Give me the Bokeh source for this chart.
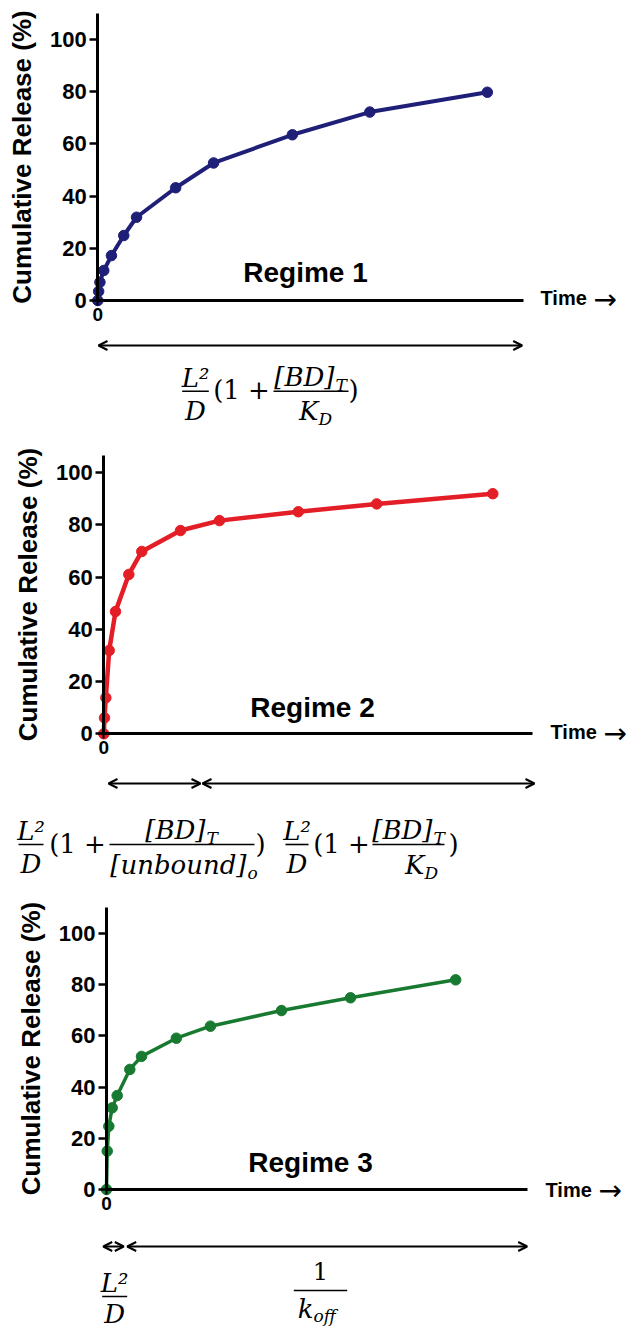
from bokeh.plotting import figure
from bokeh.layouts import column
from bokeh.models import Range1d, FixedTicker, Label, Arrow, OpenHead
from bokeh.embed import file_html
from bokeh.resources import INLINE

# ---------------- data (time in arbitrary units, release in %) ----------------
R1_TIME = [0, 0.2, 0.5, 1.4, 3.2, 6.1, 9.1, 18.3, 27.2, 45.7, 63.9, 91.5]
R1_RELEASE = [0, 3.5, 7.0, 11.5, 17.2, 24.9, 31.9, 43.2, 52.7, 63.5, 72.2, 79.8]

R2_TIME = [0, 0.16, 0.47, 1.26, 2.73, 5.84, 8.87, 17.9, 27.0, 45.4, 63.7, 90.8]
R2_RELEASE = [0, 6.1, 13.8, 31.9, 46.8, 61.0, 69.8, 77.8, 81.6, 85.0, 88.0, 91.9]

R3_TIME = [0, 0.17, 0.55, 1.35, 2.54, 5.54, 8.32, 16.6, 24.7, 41.6, 58.0, 83.0]
R3_RELEASE = [0, 15.0, 24.7, 31.9, 36.7, 46.9, 52.0, 59.1, 63.8, 69.9, 74.9, 81.9]

Y_TICKS = [0, 20, 40, 60, 80, 100]
X_TICKS = [0]
REGIME_NAMES = ["Regime 1", "Regime 2", "Regime 3"]
Y_LABEL = "Cumulative Release (%)"
X_LABEL = "Time"
X_ARROW = "\u2192"

# ---------------- layout / style ----------------
SANS = "Liberation Sans"
SERIF = "DejaVu Serif"
W = 627
LEFT = 0


class Geo:
    """Maps page pixel positions (used only for annotations) to data units."""
    def __init__(self, top, bottom, axis_x, x_end, y0, ppu):
        self.top, self.bottom = top, bottom
        self.axis_x, self.y0, self.ppu = axis_x, y0, ppu
        self.sx = (x_end - axis_x) / 100.0

    def X(self, px):
        return (px - self.axis_x) / self.sx

    def Y(self, py):
        return (self.y0 - py) / self.ppu


def base_fig(g, ymax):
    p = figure(width=W, height=int(round(g.bottom - g.top)),
               x_range=Range1d(g.X(LEFT), g.X(LEFT + W)),
               y_range=Range1d(g.Y(g.bottom), g.Y(g.top)),
               output_backend="svg", toolbar_location=None, tools="",
               min_border=0, outline_line_color=None,
               background_fill_color="white", border_fill_color="white")
    p.grid.visible = False
    ya = p.yaxis[0]
    xa = p.xaxis[0]
    ya.fixed_location = 0
    ya.bounds = (0, ymax)
    ya.ticker = FixedTicker(ticks=Y_TICKS)
    ya.axis_line_width = 3
    ya.axis_line_color = "black"
    ya.major_tick_line_width = 2.5
    ya.major_tick_line_color = "black"
    ya.major_tick_out = 8
    ya.major_tick_in = 0
    ya.minor_tick_line_color = None
    ya.major_label_text_font = SANS
    ya.major_label_text_font_style = "bold"
    ya.major_label_text_font_size = "22px"
    ya.major_label_text_color = "black"
    ya.major_label_standoff = 3
    ya.axis_label = Y_LABEL
    ya.axis_label_text_font = SANS
    ya.axis_label_text_font_style = "bold"
    ya.axis_label_text_font_size = "26px"
    ya.axis_label_text_color = "black"
    ya.axis_label_standoff = 10

    xa.fixed_location = 0
    xa.bounds = (0, 100)
    xa.ticker = FixedTicker(ticks=X_TICKS)
    xa.axis_line_width = 3
    xa.axis_line_color = "black"
    xa.major_tick_line_width = 2
    xa.major_tick_out = 5
    xa.major_tick_in = 0
    xa.minor_tick_line_color = None
    xa.major_label_text_font = SANS
    xa.major_label_text_font_style = "bold"
    xa.major_label_text_font_size = "19px"
    xa.major_label_text_color = "black"
    xa.major_label_standoff = 2
    return p


def txt(p, g, px, base, text, size, font=SERIF, style="italic", align="left"):
    """Place a text whose alphabetic baseline is at page pixel `base`."""
    cy = base - 0.36 * size
    p.add_layout(Label(x=g.X(px), y=g.Y(cy), text=text, text_font=font,
                       text_font_style=style, text_font_size=f"{size}px",
                       text_align=align, text_baseline="middle",
                       text_color="black"))


def hline(p, g, x0, x1, py, w=1.6):
    p.add_layout(Arrow(x_start=g.X(x0), y_start=g.Y(py), x_end=g.X(x1),
                       y_end=g.Y(py), start=None, end=None,
                       line_width=w, line_color="black"))


def darrow(p, g, x0, x1, py):
    p.add_layout(Arrow(x_start=g.X(x0), y_start=g.Y(py), x_end=g.X(x1),
                       y_end=g.Y(py),
                       start=OpenHead(size=9, line_width=2, line_color="black"),
                       end=OpenHead(size=9, line_width=2, line_color="black"),
                       line_width=2, line_color="black"))


def series(p, t, v, color, lw):
    p.line(t, v, line_width=lw, line_color=color)
    p.scatter(t, v, size=10.5, fill_color=color, line_color=color)


def titles(p, g, name, cx, base, tx, tcy):
    txt(p, g, cx, base, name, 28, font=SANS, style="bold", align="center")
    p.add_layout(Label(x=g.X(tx), y=g.Y(tcy), text=X_LABEL, text_font=SANS,
                       text_font_style="bold", text_font_size="20px",
                       text_align="left", text_baseline="middle",
                       text_color="black"))
    p.add_layout(Label(x=g.X(tx + 53), y=g.Y(tcy + 1), text=X_ARROW,
                       text_font="DejaVu Sans", text_font_style="normal",
                       text_font_size="28px", text_align="left",
                       text_baseline="middle", text_color="black"))


def ld_fraction(p, g, x0, x1, bar_y, den_gap=29):
    cx = (x0 + x1) / 2
    hline(p, g, x0, x1, bar_y)
    txt(p, g, cx, bar_y - 4, "L\u00b2", 26, align="center")
    txt(p, g, cx, bar_y + den_gap, "D", 26, align="center")


# ---------------- Regime 1 ----------------
G1 = Geo(top=0, bottom=445, axis_x=97.3, x_end=523, y0=300, ppu=2.61)
p1 = base_fig(G1, 110)
series(p1, R1_TIME, R1_RELEASE, "#1f1f78", 4)
titles(p1, G1, REGIME_NAMES[0], 305, 282, 540, 297.5)
darrow(p1, G1, 98, 521.7, 345)
ld_fraction(p1, G1, 181.7, 208.3, 390.7)
txt(p1, G1, 241, 399, "(1 +", 26, style="normal", align="center")
hline(p1, G1, 273, 348, 390.7)
txt(p1, G1, 334, 386, "[BD]", 26, align="right")
txt(p1, G1, 335, 391, "T", 17)
txt(p1, G1, 318, 420, "K", 26, align="right")
txt(p1, G1, 318, 425, "D", 17)
txt(p1, G1, 353, 399, ")", 26, style="normal", align="center")

# ---------------- Regime 2 ----------------
G2 = Geo(top=445, bottom=895, axis_x=103.3, x_end=531.7, y0=733.3, ppu=2.6125)
p2 = base_fig(G2, 106.5)
series(p2, R2_TIME, R2_RELEASE, "#e41e26", 4.5)
titles(p2, G2, REGIME_NAMES[1], 312, 716.7, 550, 731.7)
darrow(p2, G2, 108, 200, 783)
darrow(p2, G2, 202, 534, 783)
ld_fraction(p2, G2, 18, 43, 844)
txt(p2, G2, 77, 853, "(1 +", 26, style="normal", align="center")
hline(p2, G2, 109, 254, 844)
txt(p2, G2, 205, 839, "[BD]", 26, align="right")
txt(p2, G2, 206, 844, "T", 17)
txt(p2, G2, 246, 874, "[unbound]", 26, align="right")
txt(p2, G2, 247, 879, "o", 17)
txt(p2, G2, 260, 853, ")", 26, style="normal", align="center")
ld_fraction(p2, G2, 285, 308, 844)
txt(p2, G2, 341, 853, "(1 +", 26, style="normal", align="center")
hline(p2, G2, 372, 444, 844)
txt(p2, G2, 432, 839, "[BD]", 26, align="right")
txt(p2, G2, 433, 844, "T", 17)
txt(p2, G2, 424, 874, "K", 26, align="right")
txt(p2, G2, 424, 879, "D", 17)
txt(p2, G2, 453, 853, ")", 26, style="normal", align="center")

# ---------------- Regime 3 ----------------
G3 = Geo(top=895, bottom=1330, axis_x=106, x_end=526.7, y0=1189, ppu=2.56)
p3 = base_fig(G3, 110)
series(p3, R3_TIME, R3_RELEASE, "#187a30", 3.5)
titles(p3, G3, REGIME_NAMES[2], 310, 1171.7, 545, 1189)
darrow(p3, G3, 102.7, 123.3, 1246)
darrow(p3, G3, 126.7, 526.7, 1246)
ld_fraction(p3, G3, 101.7, 126.7, 1296, den_gap=27)
hline(p3, G3, 293.3, 346.7, 1290)
txt(p3, G3, 320, 1279, "1", 24, style="normal", align="center")
txt(p3, G3, 313, 1318, "k", 26, align="right")
txt(p3, G3, 313, 1322, "off", 17)

layout = column(p1, p2, p3, spacing=0)
open("out.html", "w").write(file_html(layout, INLINE))
